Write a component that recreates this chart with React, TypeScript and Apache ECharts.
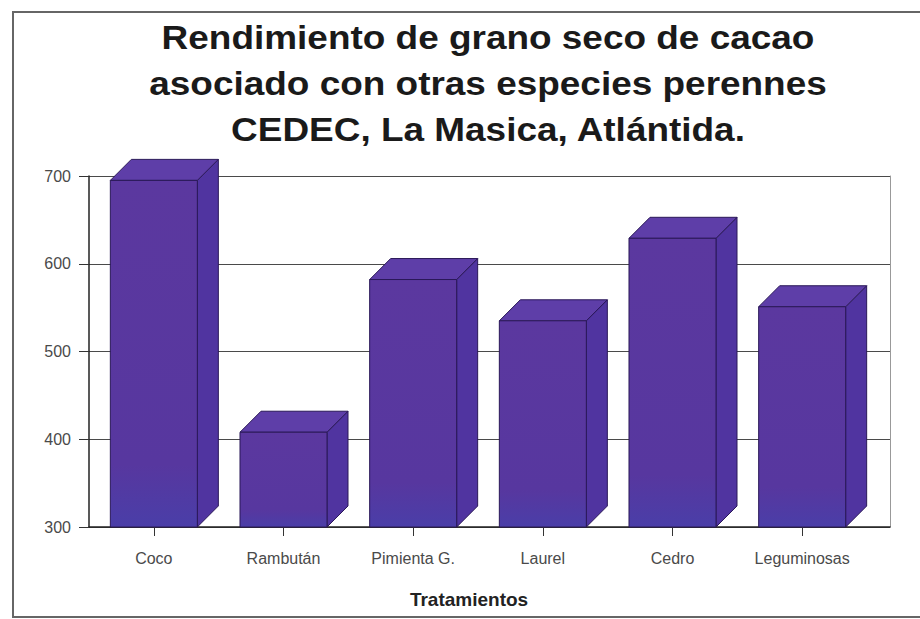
import React, { useEffect, useRef } from "react";
import * as echarts from "echarts";

const categories = ["Coco", "Rambután", "Pimienta G.", "Laurel", "Cedro", "Leguminosas"];
const yields = [695, 408, 582, 535, 629, 551];
const yMin = 300;
const yMax = 700;
const yStep = 100;
const titleLines = [
  "Rendimiento de grano seco de cacao",
  "asociado con otras especies perennes",
  "CEDEC, La Masica, Atlántida.",
];
const xAxisTitle = "Tratamientos";

const FONT = '"Liberation Sans", Arial, Helvetica, sans-serif';

export default function App() {
  const ref = useRef<HTMLDivElement>(null);

  useEffect(() => {
    if (!ref.current) return;
    const chart = echarts.init(ref.current, null, { renderer: "svg" });

    const DX = 21;
    const DY = 21;
    const frontColor = new echarts.graphic.LinearGradient(0, 0, 0, 1, [
      { offset: 0, color: "#5b389f" },
      { offset: 0.82, color: "#57379f" },
      { offset: 1, color: "#4a3ea8" },
    ]);
    const edge = "#2a1858";

    const renderItem = (params: any, api: any) => {
      const idx = api.value(0);
      const v = api.value(1);
      const top = api.coord([idx, v]);
      const base = api.coord([idx, yMin]);
      const band = api.size([1, 0])[0];
      const w = band * 0.671;
      const x0 = top[0] - w / 2;
      const x1 = top[0] + w / 2;
      const yT = top[1];
      const yB = base[1];
      return {
        type: "group",
        children: [
          {
            type: "polygon",
            shape: { points: [[x1, yT], [x1 + DX, yT - DY], [x1 + DX, yB - DY], [x1, yB]] },
            style: { fill: "#5034a0", stroke: edge, lineWidth: 1 },
          },
          {
            type: "polygon",
            shape: { points: [[x0, yT], [x0 + DX, yT - DY], [x1 + DX, yT - DY], [x1, yT]] },
            style: { fill: "#5e3ea8", stroke: edge, lineWidth: 1 },
          },
          {
            type: "rect",
            shape: { x: x0, y: yT, width: w, height: yB - yT },
            style: { fill: frontColor, stroke: edge, lineWidth: 1 },
          },
        ],
      };
    };

    const titleY = [37, 83, 129];

    chart.setOption({
      animation: false,
      backgroundColor: "#ffffff",
      grid: [
        { left: 89, right: 30, top: 176, bottom: 92 },
        { left: 89, right: 53, top: 176, bottom: 92 },
      ],
      xAxis: [
        {
          type: "value",
          gridIndex: 0,
          min: 0,
          max: 1,
          axisLine: { show: true, lineStyle: { color: "#222", width: 1.5 } },
          axisTick: { show: false },
          axisLabel: { show: false },
          splitLine: { show: false },
        },
        {
          type: "category",
          gridIndex: 1,
          data: categories,
          axisLine: { show: false },
          axisTick: { show: true, alignWithLabel: true, length: 9, lineStyle: { color: "#333" } },
          axisLabel: { margin: 23, fontSize: 16, fontFamily: FONT, color: "#4a4a4a" },
          name: xAxisTitle,
          nameLocation: "middle",
          nameGap: 63,
          nameTextStyle: {
            fontSize: 19,
            fontWeight: "bold",
            fontFamily: FONT,
            color: "#222",
            padding: [0, 18, 0, 0],
          },
        },
      ],
      yAxis: [
        {
          type: "value",
          gridIndex: 0,
          min: yMin,
          max: yMax,
          interval: yStep,
          axisLine: { show: true, lineStyle: { color: "#222", width: 1.5 } },
          axisTick: { show: true, inside: false, length: 10, lineStyle: { color: "#333" } },
          axisLabel: { margin: 18, fontSize: 16, fontFamily: FONT, color: "#4a4a4a" },
          splitLine: { show: true, lineStyle: { color: "#4a4a4a", width: 1 } },
        },
        {
          type: "value",
          gridIndex: 0,
          position: "right",
          min: yMin,
          max: yMax,
          interval: yStep,
          axisLine: { show: true, lineStyle: { color: "#999", width: 1 } },
          axisTick: { show: false },
          axisLabel: { show: false },
          splitLine: { show: false },
        },
        {
          type: "value",
          gridIndex: 1,
          min: yMin,
          max: yMax,
          interval: yStep,
          show: false,
        },
      ],
      series: [
        {
          type: "custom",
          xAxisIndex: 1,
          yAxisIndex: 2,
          clip: false,
          renderItem,
          encode: { x: 0, y: 1 },
          data: categories.map((_, i) => [i, yields[i]]),
        },
      ],
      graphic: [
        {
          type: "rect",
          shape: { x: 13, y: 12, width: 1000, height: 605 },
          style: { fill: "none", stroke: "#666", lineWidth: 2 },
          silent: true,
        },
        ...titleLines.map((t, i) => ({
          type: "text",
          x: 488,
          y: titleY[i],
          scaleX: 1.12,
          style: {
            text: t,
            fontSize: 33,
            fontWeight: "bold",
            fontFamily: FONT,
            fill: "#1a1a1a",
            align: "center",
            verticalAlign: "middle",
            textAlign: "center",
            textVerticalAlign: "middle",
          },
        })),
      ],
    });

    return () => chart.dispose();
  }, []);

  return (
    <div
      ref={ref}
      style={{ position: "fixed", left: 0, top: 0, width: 920, height: 619, background: "#fff" }}
    />
  );
}
